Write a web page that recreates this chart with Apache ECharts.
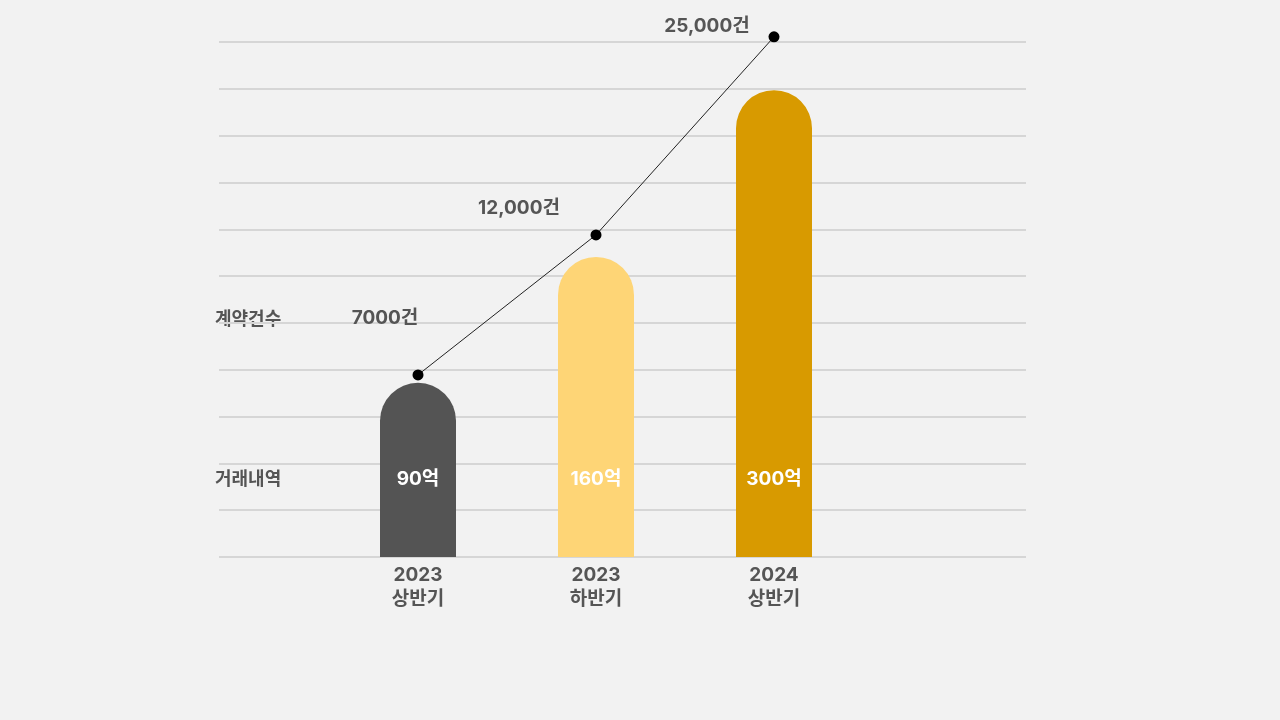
<!DOCTYPE html>
<html style="height: 100%">
<head>
    <meta charset="utf-8">
    <title>거래내역 / 계약건수</title>
    <script src="https://cdn.jsdelivr.net/npm/echarts@6/dist/echarts.min.js"></script>
    <style>
        html, body { margin: 0; padding: 0; }
        #container { width: 1280px; height: 720px; }
    </style>
</head>
<body style="background-color: #f2f2f2;">
<div id="container"></div>
<script>
    // categories (two-line axis labels)
    var periods = ['2023\n상반기', '2023\n하반기', '2024\n상반기'];
    // 거래내역 (억) - labels inside bars
    var tradeValues = [90, 160, 300];
    // bar heights as drawn on a 0-110 grid scale
    var tradeHeights = [37.2, 64.1, 99.7];
    // 계약건수 (건) - labels of the line points
    var contractValues = ['7000건', '12,000건', '25,000건'];
    // line point heights as drawn, same 0-110 grid scale
    var contractHeights = [38.9, 68.8, 111.1];
    var barColors = ['#545454', '#fed576', '#d89a00'];
    // where each count label sits relative to its point
    var contractLabelOffsets = [[-33, -57], [-77, -27], [-67, -11]];

    var font = "Inter, 'Noto Sans CJK KR', sans-serif";
    var krFont = "'Noto Sans CJK KR', 'Noto Sans', sans-serif";

    var barData = tradeHeights.map(function (h, i) {
        return {
            value: h,
            itemStyle: { color: barColors[i] },
            label: { formatter: tradeValues[i] + '억' }
        };
    });
    var lineData = contractHeights.map(function (h, i) {
        return {
            value: h,
            label: { formatter: contractValues[i], offset: contractLabelOffsets[i] }
        };
    });

    var myChart = echarts.init(document.getElementById('container'));
    var option = {
        backgroundColor: '#f2f2f2',
        animation: false,
        grid: [
            // background grid lines
            { left: 219, right: 254, top: 42, bottom: 163 },
            // bars and line
            { left: 329, right: 417, top: 42, bottom: 163 }
        ],
        xAxis: [
            { gridIndex: 0, type: 'value', show: false },
            {
                gridIndex: 1,
                type: 'category',
                data: periods,
                axisLine: { show: false },
                axisTick: { show: false },
                axisLabel: {
                    margin: 6,
                    color: '#555',
                    fontFamily: font,
                    fontWeight: 'bold',
                    fontSize: 19,
                    lineHeight: 24
                }
            }
        ],
        yAxis: [
            {
                gridIndex: 0,
                type: 'value',
                min: 0,
                max: 110,
                interval: 10,
                axisLine: { show: false },
                axisTick: { show: false },
                axisLabel: { show: false },
                splitLine: { lineStyle: { color: '#d6d6d6', width: 2 } }
            },
            {
                gridIndex: 1,
                type: 'value',
                min: 0,
                max: 110,
                show: false,
                splitLine: { show: false }
            }
        ],
        graphic: [
            {
                type: 'text', x: 215, y: 318,
                style: { text: '계약건수', fill: '#555', font: 'bold 18px ' + krFont, verticalAlign: 'middle' }
            },
            {
                type: 'text', x: 215, y: 478,
                style: { text: '거래내역', fill: '#555', font: 'bold 18px ' + krFont, verticalAlign: 'middle' }
            }
        ],
        series: [
            {
                name: '거래내역',
                type: 'bar',
                xAxisIndex: 1,
                yAxisIndex: 1,
                barWidth: 76,
                data: barData,
                itemStyle: { borderRadius: [38, 38, 0, 0] },
                label: {
                    show: true,
                    position: 'insideBottom',
                    distance: 68,
                    color: '#fff',
                    fontFamily: font,
                    fontWeight: 'bold',
                    fontSize: 19,
                    lineHeight: 20
                }
            },
            {
                name: '계약건수',
                type: 'line',
                xAxisIndex: 1,
                yAxisIndex: 1,
                clip: false,
                data: lineData,
                symbol: 'circle',
                symbolSize: 11,
                itemStyle: { color: '#000' },
                lineStyle: { color: '#222', width: 1 },
                label: {
                    show: true,
                    position: 'inside',
                    color: '#555',
                    fontFamily: font,
                    fontWeight: 'bold',
                    fontSize: 19
                }
            }
        ]
    };
    myChart.setOption(option);
</script>
</body>
</html>
